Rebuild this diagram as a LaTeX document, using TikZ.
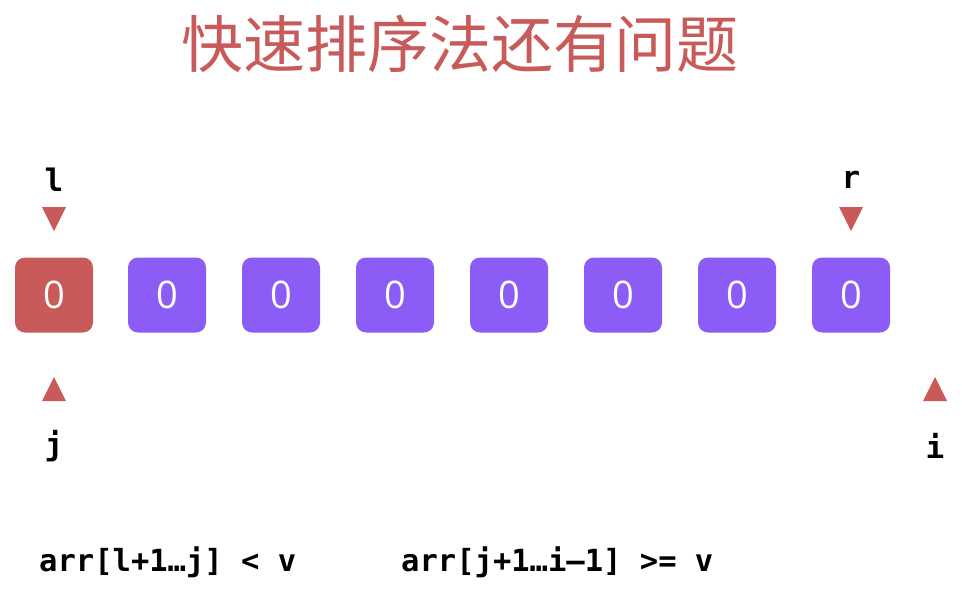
\documentclass[tikz,border=0pt]{standalone}
\usepackage{fontspec}
\setmainfont{Open Sans}
\setmonofont{DejaVu Sans Mono}
\newfontfamily\cjk{Noto Sans CJK SC}
\definecolor{myred}{HTML}{C85A5A}
\definecolor{mypurple}{HTML}{8C5CF7}
\begin{document}
\begin{tikzpicture}[x=1pt,y=-1pt,
  cell/.style={rounded corners=10pt, minimum width=78pt, minimum height=75pt, inner sep=0pt,
    text=white, font=\fontsize{38}{40}\selectfont},
  redcell/.style={cell, fill=myred},
  purcell/.style={cell, fill=mypurple},
  ptrlabel/.style={font=\fontsize{31}{32}\selectfont\ttfamily\bfseries, text=black, inner sep=0pt},
  code/.style={font=\fontsize{30.5}{32}\selectfont\ttfamily\bfseries, text=black, inner sep=0pt, anchor=west},
  tri/.style={fill=myred}]
\useasboundingbox (0,0) rectangle (962,589);
\fill[white] (0,0) rectangle (962,589);
\node[font=\cjk\fontsize{62}{66}\selectfont, text=myred, inner sep=0pt] (title) at (460,44) {快速排序法还有问题};
\node[redcell] (c0) at (54,295) {0};
\foreach \k/\x in {1/167,2/281,3/395,4/509,5/623,6/737,7/851}
  \node[purcell] (c\k) at (\x,295) {0};
% top pointers
\node[ptrlabel] (l) at (54,180) {l};
\node[ptrlabel] (r) at (851,180) {r};
\coordinate (tl) at (54,219);
\coordinate (tr) at (851,219);
\foreach \c in {tl,tr}
  \fill[tri] ([xshift=-12pt,yshift=12pt]\c) -- ([xshift=12pt,yshift=12pt]\c) -- ([yshift=-12pt]\c) -- cycle;
% bottom pointers
\coordinate (tj) at (54,389);
\coordinate (ti) at (935,389);
\foreach \c in {tj,ti}
  \fill[tri] ([xshift=-12pt,yshift=-12pt]\c) -- ([xshift=12pt,yshift=-12pt]\c) -- ([yshift=12pt]\c) -- cycle;
\node[ptrlabel] (j) at (54,446) {j};
\node[ptrlabel] (i) at (935,446) {i};
% code text
\node[code] (c1t) at (39,562) {arr[l+1…j] < v};
\node[code] (c2t) at (401,562) {arr[j+1…i–1] >= v};
\end{tikzpicture}
\end{document}
